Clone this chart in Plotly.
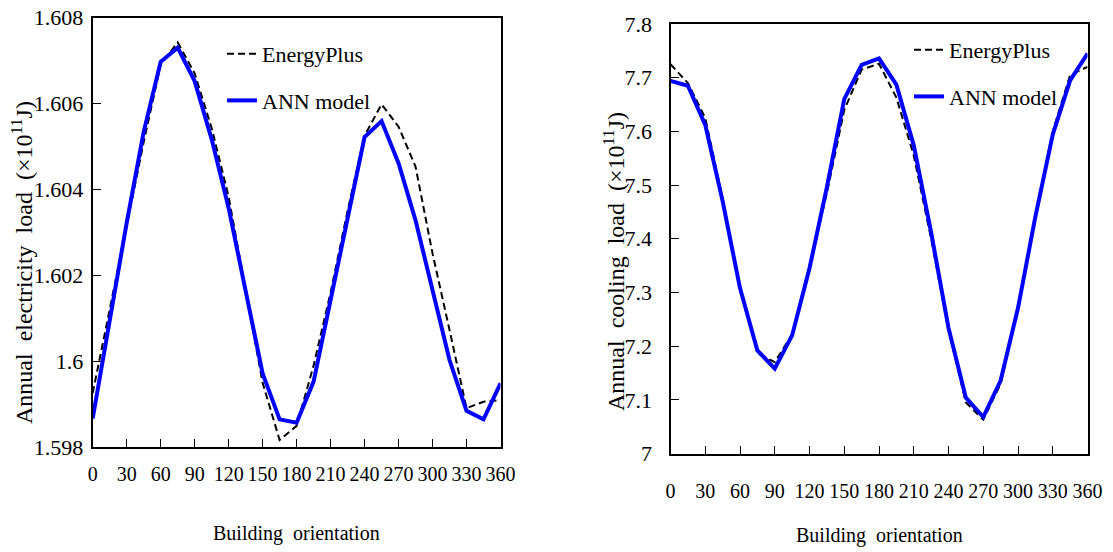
import plotly.graph_objects as go

# ---------------- data ----------------
orientation = [0, 15, 30, 45, 60, 75, 90, 105, 120, 135, 150, 165, 180,
               195, 210, 225, 240, 255, 270, 285, 300, 315, 330, 345, 360]

elec_energyplus = [1.59926, 1.60120, 1.60310, 1.60510, 1.60690, 1.60742, 1.60670,
                   1.60543, 1.60383, 1.60170, 1.59950, 1.59817, 1.59850, 1.59990,
                   1.60160, 1.60350, 1.60525, 1.60598, 1.60546, 1.60453, 1.60251,
                   1.60073, 1.59891, 1.59906, 1.59910]
elec_ann = [1.59867, 1.60095, 1.60322, 1.60534, 1.60697, 1.60730, 1.60652,
            1.60517, 1.60357, 1.60164, 1.59972, 1.59865, 1.59857, 1.59953,
            1.60139, 1.60334, 1.60522, 1.60559, 1.60461, 1.60328, 1.60164,
            1.60003, 1.59885, 1.59865, 1.59949]

cool_energyplus = [7.725, 7.690, 7.625, 7.475, 7.310, 7.187, 7.170, 7.222, 7.350,
                   7.485, 7.640, 7.715, 7.726, 7.663, 7.555, 7.400, 7.230, 7.095,
                   7.063, 7.130, 7.270, 7.440, 7.600, 7.705, 7.720]
cool_ann = [7.694, 7.685, 7.612, 7.470, 7.308, 7.192, 7.158, 7.220, 7.345,
            7.496, 7.660, 7.724, 7.736, 7.687, 7.574, 7.412, 7.234, 7.104,
            7.068, 7.136, 7.271, 7.441, 7.594, 7.695, 7.745]

x_ticks = [0, 30, 60, 90, 120, 150, 180, 210, 240, 270, 300, 330, 360]
x_ticktext = ["0", "30", "60", "90", "120", "150", "180", "210", "240", "270", "300", "330", "360"]
elec_ticks = [1.598, 1.600, 1.602, 1.604, 1.606, 1.608]
elec_ticktext = ["1.598", "1.6", "1.602", "1.604", "1.606", "1.608"]
cool_ticks = [7.0, 7.1, 7.2, 7.3, 7.4, 7.5, 7.6, 7.7, 7.8]
cool_ticktext = ["7", "7.1", "7.2", "7.3", "7.4", "7.5", "7.6", "7.7", "7.8"]

series_names = ["EnergyPlus", "ANN model"]
x_title = "Building  orientation"
elec_title = "Annual  electricity  load  (×10<sup>11</sup>J)"
cool_title = "Annual  cooling  load  (×10<sup>11</sup>J)"

# ---------------- figure ----------------
FONT = "Liberation Serif, Times New Roman, DejaVu Serif, serif"
W, H = 1113, 552
dash_style = dict(color="black", width=2, dash="7px,4px")
ann_style = dict(color="#0000FF", width=4)

fig = go.Figure()
fig.add_trace(go.Scatter(x=orientation, y=elec_energyplus, mode="lines", name=series_names[0],
                         line=dash_style, xaxis="x", yaxis="y", legend="legend", legendgroup="a"))
fig.add_trace(go.Scatter(x=orientation, y=elec_ann, mode="lines", name=series_names[1],
                         line=ann_style, xaxis="x", yaxis="y", legend="legend", legendgroup="b"))
fig.add_trace(go.Scatter(x=orientation, y=cool_energyplus, mode="lines", name=series_names[0],
                         line=dash_style, xaxis="x2", yaxis="y2", legend="legend2", legendgroup="c"))
fig.add_trace(go.Scatter(x=orientation, y=cool_ann, mode="lines", name=series_names[1],
                         line=ann_style, xaxis="x2", yaxis="y2", legend="legend2", legendgroup="d"))

# pixel geometry
L1, R1, T1, B1 = 92.7, 500.5, 17.5, 447.3
L2, R2, T2, B2 = 670.5, 1087.5, 24.0, 453.5

def px_dom_x(a, b):
    return [a / W, b / W]

def px_dom_y(top, bottom):
    return [(H - bottom) / H, (H - top) / H]

xtickfont = dict(family=FONT, size=20, color="black")
ytickfont = dict(family=FONT, size=22, color="black")

common_x = dict(range=[0, 360], tickmode="array", tickvals=x_ticks, ticktext=x_ticktext,
                ticks="inside", ticklen=8, tickwidth=1.3, tickcolor="black",
                showline=True, linecolor="black", linewidth=2, mirror=True,
                showgrid=False, zeroline=False, tickangle=0, tickfont=xtickfont,
                automargin=False)
common_y = dict(tickmode="array", ticks="inside", ticklen=8, tickwidth=1.3, tickcolor="black",
                showline=True, linecolor="black", linewidth=2, mirror=True,
                showgrid=False, zeroline=False, tickfont=ytickfont, automargin=False)

fig.update_layout(
    width=W, height=H,
    margin=dict(l=0, r=0, t=0, b=0),
    paper_bgcolor="white", plot_bgcolor="white",
    font=dict(family=FONT, size=22, color="black"),
    xaxis=dict(domain=px_dom_x(L1, R1), anchor="y", ticklabelstandoff=8, **common_x),
    yaxis=dict(domain=px_dom_y(T1, B1), anchor="x", range=[1.598, 1.608],
               tickvals=elec_ticks, ticktext=elec_ticktext, ticklabelstandoff=3, **common_y),
    xaxis2=dict(domain=px_dom_x(L2, R2), anchor="y2", ticklabelstandoff=18, **common_x),
    yaxis2=dict(domain=px_dom_y(T2, B2), anchor="x2", range=[7.0, 7.8],
                tickvals=cool_ticks, ticktext=cool_ticktext, ticklabelstandoff=12, **common_y),
    legend=dict(x=222 / W, y=1 - 33 / H, xanchor="left", yanchor="top",
                bgcolor="rgba(0,0,0,0)", font=dict(family=FONT, size=22),
                traceorder="grouped", tracegroupgap=15),
    legend2=dict(x=909 / W, y=1 - 29 / H, xanchor="left", yanchor="top",
                 bgcolor="rgba(0,0,0,0)", font=dict(family=FONT, size=22),
                 traceorder="grouped", tracegroupgap=15),
    showlegend=True,
)

annotations = [
    dict(text=x_title, x=(L1 + R1) / 2 / W, y=1 - 533 / H, xref="paper", yref="paper",
         showarrow=False, font=dict(family=FONT, size=20), xanchor="center", yanchor="middle"),
    dict(text=x_title, x=(L2 + R2) / 2 / W, y=1 - 535 / H, xref="paper", yref="paper",
         showarrow=False, font=dict(family=FONT, size=20), xanchor="center", yanchor="middle"),
    dict(text=elec_title, x=22 / W, y=1 - 263 / H, xref="paper", yref="paper", textangle=-90,
         showarrow=False, font=dict(family=FONT, size=24), xanchor="center", yanchor="middle"),
    dict(text=cool_title, x=614 / W, y=1 - 262 / H, xref="paper", yref="paper", textangle=-90,
         showarrow=False, font=dict(family=FONT, size=24), xanchor="center", yanchor="middle"),
]
fig.update_layout(annotations=annotations)

fig.write_html("out.html")
